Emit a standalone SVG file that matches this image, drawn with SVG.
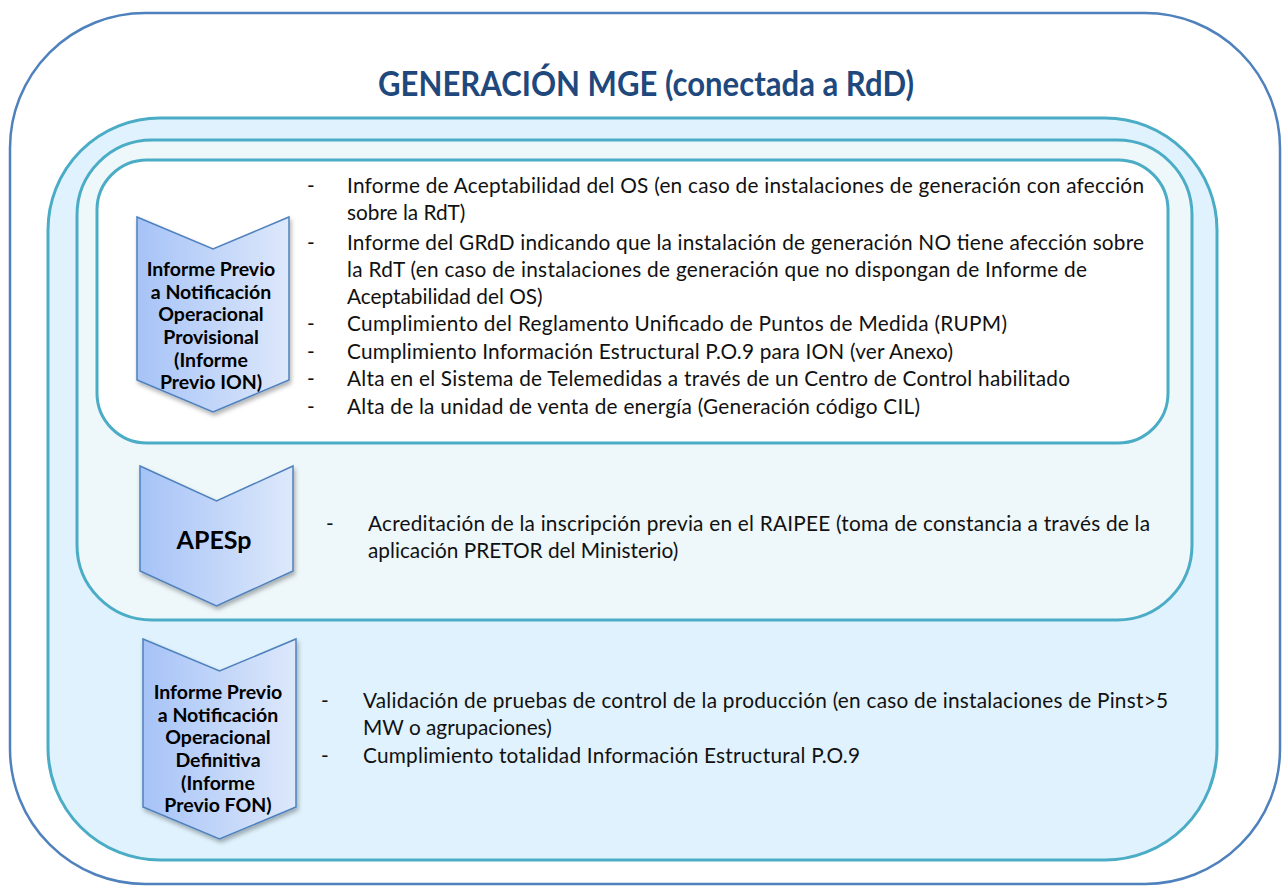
<svg xmlns="http://www.w3.org/2000/svg" width="1282" height="886" viewBox="0 0 1282 886">
<style>
.outer{fill:#ffffff;stroke:#4F81BD;stroke-width:2.5}
.band{stroke:#4BACC6;stroke-width:3}
.chev{fill:url(#chevGrad);stroke:#4F81BD;stroke-width:1.5;filter:url(#shadow)}
.title{font-family:Lato,"Open Sans",sans-serif;font-weight:bold;font-size:35px;fill:#1F497D}
.ct{font-family:Lato,"Open Sans",sans-serif;font-weight:bold;font-size:19.5px;fill:#000000;text-anchor:middle}
.ap{font-family:Lato,"Open Sans",sans-serif;font-weight:bold;font-size:25px;fill:#000000;text-anchor:middle}
.bt{font-family:Lato,"Open Sans",sans-serif;font-size:20.8px;fill:#111111}
</style>
<defs>
<linearGradient id="chevGrad" x1="0" y1="0" x2="1" y2="0">
<stop offset="0" stop-color="#A6C3F7"/>
<stop offset="1" stop-color="#DDE8FB"/>
</linearGradient>
<filter id="shadow" x="-20%" y="-20%" width="140%" height="140%">
<feDropShadow dx="1.5" dy="3" stdDeviation="2" flood-color="#000000" flood-opacity="0.3"/>
</filter>
</defs>
<g id="frame-outer">
<rect class="outer" x="10" y="13" width="1270" height="871" rx="135" ry="135"/>
<text class="title" x="378" y="96" textLength="536" lengthAdjust="spacingAndGlyphs">GENERACIÓN MGE (conectada a RdD)</text>
</g>
<g id="frame-fon">
<rect class="band" fill="#E0F2FD" x="48" y="118" width="1169" height="742" rx="112" ry="112"/>
</g>
<g id="frame-apesp">
<rect class="band" fill="#EEF7FA" x="77" y="140" width="1115" height="480" rx="75" ry="75"/>
</g>
<g id="frame-ion">
<rect class="band" fill="#FFFFFF" x="97" y="160" width="1071" height="283" rx="50" ry="50"/>
</g>
<g id="node-ion">
<path class="chev" d="M137,217 L213,249 L289,217 L289,380 L213,412 L137,380 Z"/>
<text class="ct" x="211" y="276">Informe Previo</text>
<text class="ct" x="211" y="299">a Notificación</text>
<text class="ct" x="211" y="321">Operacional</text>
<text class="ct" x="211" y="344">Provisional</text>
<text class="ct" x="211" y="367">(Informe</text>
<text class="ct" x="211" y="389">Previo ION)</text>
</g>
<g id="text-ion">
<text class="bt" x="307" y="193">-</text>
<text class="bt" x="347" y="193" textLength="797" lengthAdjust="spacing">Informe de Aceptabilidad del OS (en caso de instalaciones de generación con afección</text>
<text class="bt" x="347" y="220">sobre la RdT)</text>
<text class="bt" x="307" y="250">-</text>
<text class="bt" x="347" y="250" textLength="797" lengthAdjust="spacing">Informe del GRdD indicando que la instalación de generación NO tiene afección sobre</text>
<text class="bt" x="347" y="277" textLength="740" lengthAdjust="spacing">la RdT (en caso de instalaciones de generación que no dispongan de Informe de</text>
<text class="bt" x="347" y="304">Aceptabilidad del OS)</text>
<text class="bt" x="307" y="331">-</text>
<text class="bt" x="347" y="331" textLength="660" lengthAdjust="spacing">Cumplimiento del Reglamento Unificado de Puntos de Medida (RUPM)</text>
<text class="bt" x="307" y="359">-</text>
<text class="bt" x="347" y="359" textLength="606" lengthAdjust="spacing">Cumplimiento Información Estructural P.O.9 para ION (ver Anexo)</text>
<text class="bt" x="307" y="386">-</text>
<text class="bt" x="347" y="386" textLength="723" lengthAdjust="spacing">Alta en el Sistema de Telemedidas a través de un Centro de Control habilitado</text>
<text class="bt" x="307" y="414">-</text>
<text class="bt" x="347" y="414" textLength="573" lengthAdjust="spacing">Alta de la unidad de venta de energía (Generación código CIL)</text>
</g>
<g id="node-apesp">
<path class="chev" d="M140,466 L216.5,501 L293,466 L293,571 L216.5,606 L140,571 Z"/>
<text class="ap" x="214" y="549">APESp</text>
</g>
<g id="text-apesp">
<text class="bt" x="326" y="531">-</text>
<text class="bt" x="368" y="531" textLength="782" lengthAdjust="spacing">Acreditación de la inscripción previa en el RAIPEE (toma de constancia a través de la</text>
<text class="bt" x="368" y="558">aplicación PRETOR del Ministerio)</text>
</g>
<g id="node-fon">
<path class="chev" d="M143,639 L219.5,671 L296,639 L296,807 L219.5,839 L143,807 Z"/>
<text class="ct" x="218" y="699">Informe Previo</text>
<text class="ct" x="218" y="722">a Notificación</text>
<text class="ct" x="218" y="744">Operacional</text>
<text class="ct" x="218" y="767">Definitiva</text>
<text class="ct" x="218" y="790">(Informe</text>
<text class="ct" x="218" y="812">Previo FON)</text>
</g>
<g id="text-fon">
<text class="bt" x="321" y="708">-</text>
<text class="bt" x="363" y="708" textLength="805" lengthAdjust="spacing">Validación de pruebas de control de la producción (en caso de instalaciones de Pinst&gt;5</text>
<text class="bt" x="363" y="735">MW o agrupaciones)</text>
<text class="bt" x="321" y="763">-</text>
<text class="bt" x="363" y="763" textLength="497" lengthAdjust="spacing">Cumplimiento totalidad Información Estructural P.O.9</text>
</g>
<g id="connectors"></g>
</svg>
